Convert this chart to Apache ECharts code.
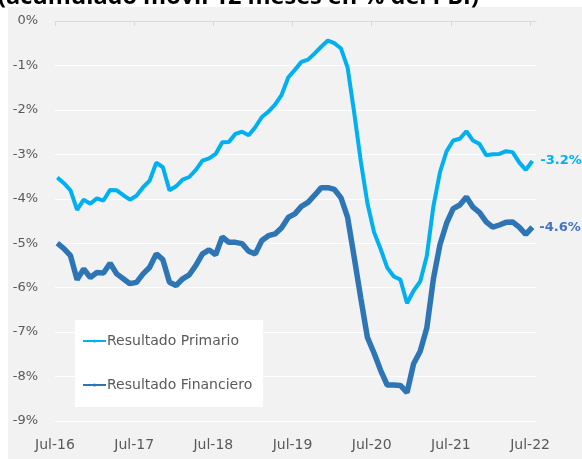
<!DOCTYPE html>
<html>
<head>
<meta charset="utf-8">
<script src="https://cdn.jsdelivr.net/npm/echarts@6/dist/echarts.min.js"></script>
<style>
  html, body { margin: 0; padding: 0; background: #fff; }
  #chart_id { width: 582px; height: 459px; }
</style>
</head>
<body>
<div id="chart_id"></div>
<script>
// meses desde Jul-16 hasta Jul-22 (73 puntos)
const yearLabels = ['Jul-16', 'Jul-17', 'Jul-18', 'Jul-19', 'Jul-20', 'Jul-21', 'Jul-22'];
const yTicks = [0, -1, -2, -3, -4, -5, -6, -7, -8, -9];

const primario = [
  -3.52, -3.65, -3.81, -4.25, -4.02, -4.11, -3.99, -4.04, -3.80, -3.81, -3.92, -4.02,
  -3.93, -3.74, -3.59, -3.19, -3.29, -3.81, -3.72, -3.57, -3.51, -3.35, -3.14, -3.09,
  -2.99, -2.73, -2.72, -2.54, -2.49, -2.57, -2.39, -2.16, -2.04, -1.88, -1.66, -1.27,
  -1.10, -0.92, -0.87, -0.73, -0.58, -0.44, -0.50, -0.62, -1.05, -2.07, -3.16, -4.10,
  -4.75, -5.13, -5.55, -5.75, -5.82, -6.35, -6.07, -5.86, -5.29, -4.17, -3.40, -2.93,
  -2.69, -2.65, -2.48, -2.69, -2.77, -3.02, -3.00, -2.99, -2.93, -2.95, -3.18, -3.35,
  -3.15
];

const financiero = [
  -5.00, -5.12, -5.28, -5.82, -5.58, -5.77, -5.66, -5.67, -5.45, -5.69, -5.80, -5.91,
  -5.88, -5.69, -5.54, -5.24, -5.37, -5.88, -5.95, -5.80, -5.71, -5.50, -5.24, -5.15,
  -5.26, -4.86, -4.98, -4.98, -5.01, -5.18, -5.24, -4.94, -4.83, -4.79, -4.65, -4.42,
  -4.34, -4.17, -4.08, -3.92, -3.75, -3.75, -3.79, -3.98, -4.42, -5.32, -6.24, -7.12,
  -7.47, -7.86, -8.19, -8.19, -8.20, -8.36, -7.71, -7.43, -6.91, -5.80, -5.03, -4.55,
  -4.22, -4.14, -3.96, -4.19, -4.31, -4.52, -4.64, -4.59, -4.53, -4.52, -4.64, -4.80,
  -4.64
];

const X_SHIFT = 0.35; // los puntos caen un poco después de la marca del mes
const tickMonths = yearLabels.map((_, i) => i * 12);

const toPoints = (arr) => arr.map((v, i) => [i + X_SHIFT, v]);

const FONT = '"DejaVu Sans", sans-serif';
const myChart = echarts.init(document.getElementById('chart_id'));

const option = {
  animation: false,
  backgroundColor: '#ffffff',
  graphic: [
    {
      type: 'text',
      left: -2,
      top: -15,
      z: 1,
      style: {
        text: '(acumulado móvil 12 meses en % del PBI)',
        font: 'bold 23.5px "Open Sans", sans-serif',
        fill: '#000000',
      },
    },
    {
      type: 'rect',
      left: 8,
      top: 7,
      z: -10,
      shape: { width: 574, height: 452 },
      style: { fill: '#f2f2f2' },
    },
    {
      type: 'rect',
      left: 75,
      top: 320,
      z: 5,
      shape: { width: 188, height: 87 },
      style: { fill: '#ffffff' },
    },
  ],
  grid: {
    left: 55,
    right: 46,
    top: 21,
    bottom: 38,
  },
  legend: {
    orient: 'vertical',
    left: 82,
    top: 334,
    padding: 0,
    itemWidth: 23,
    itemHeight: 4,
    itemGap: 30,
    z: 6,
    textStyle: {
      color: '#595959',
      fontFamily: FONT,
      fontSize: 14,
      padding: [0, 0, 0, -4],
    },
    data: ['Resultado Primario', 'Resultado Financiero'],
  },
  xAxis: [
    {
      type: 'value',
      min: 0,
      max: 72.9,
      axisLine: { onZero: true, lineStyle: { color: '#d9d9d9', width: 1 } },
      axisTick: { show: true, length: 5, customValues: tickMonths, lineStyle: { color: '#d9d9d9' } },
      axisLabel: { show: false },
      splitLine: { show: false },
    },
    {
      type: 'value',
      min: 0,
      max: 72.9,
      position: 'bottom',
      axisLine: { show: false, onZero: false },
      axisTick: { show: false },
      splitLine: { show: false },
      axisLabel: {
        customValues: tickMonths,
        margin: 17,
        color: '#595959',
        fontFamily: FONT,
        fontSize: 14,
        formatter: (value) => yearLabels[Math.round(value / 12)],
      },
    },
  ],
  yAxis: {
    type: 'value',
    min: yTicks[yTicks.length - 1],
    max: yTicks[0],
    interval: 1,
    axisLine: { show: false },
    axisTick: { show: false },
    axisLabel: {
      margin: 17,
      color: '#595959',
      fontFamily: FONT,
      fontSize: 13,
      formatter: (value) => `${value}%`,
    },
    splitLine: {
      lineStyle: { color: '#ffffff', width: 1 },
    },
  },
  series: [
    {
      name: 'Resultado Primario',
      type: 'line',
      xAxisIndex: 0,
      data: toPoints(primario),
      symbol: 'none',
      clip: false,
      color: '#00b0f0',
      lineStyle: { width: 4, color: '#00b0f0' },
      z: 3,
      endLabel: {
        show: true,
        distance: 8,
        formatter: () => '-3.2%',
        color: '#00b0f0',
        fontWeight: 'bold',
        fontFamily: FONT,
        fontSize: 13,
      },
    },
    {
      name: 'Resultado Financiero',
      type: 'line',
      xAxisIndex: 0,
      data: toPoints(financiero),
      symbol: 'none',
      clip: false,
      color: '#2e75b6',
      lineStyle: { width: 5.5, color: '#2e75b6' },
      z: 2,
      endLabel: {
        show: true,
        distance: 7,
        formatter: () => '-4.6%',
        color: '#4472c4',
        fontWeight: 'bold',
        fontFamily: FONT,
        fontSize: 13,
      },
    },
  ],
};
myChart.clear();
myChart.setOption(option);
window.onresize = myChart.resize;
</script>
</body>
</html>
